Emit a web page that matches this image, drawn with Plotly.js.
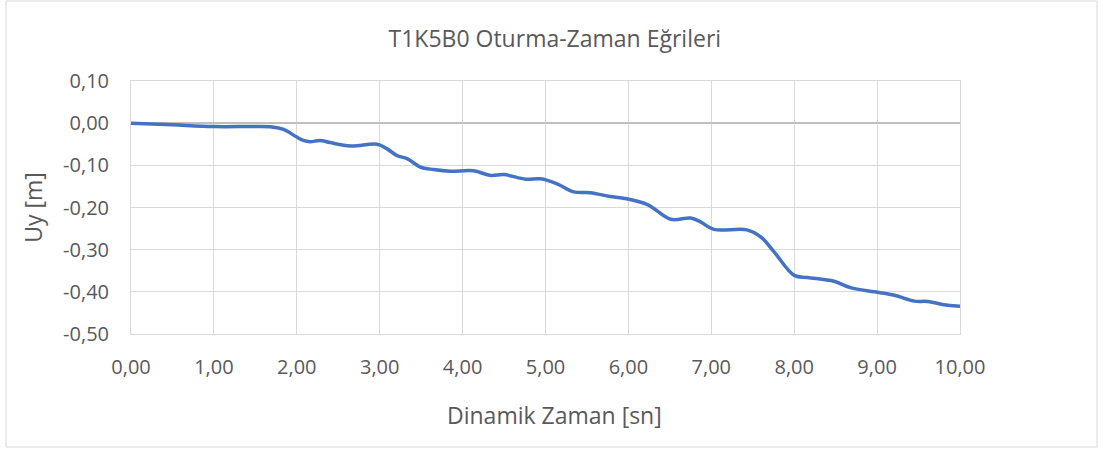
<!DOCTYPE html>
<html>
<head>
<meta charset="utf-8">
<script src="https://cdn.plot.ly/plotly-3.0.1.min.js"></script>
<style>
html,body{margin:0;padding:0;background:#fff;}
#chart{width:1103px;height:450px;}
</style>
</head>
<body>
<div id="chart"></div>
<script>
const titleText = "T1K5B0 Oturma-Zaman Eğrileri";
const xTitle = "Dinamik Zaman [sn]";
const yTitle = "Uy [m]";

const time = [0, 0.5, 1.0, 1.5, 1.7, 1.84, 2.0, 2.08, 2.16, 2.28, 2.4, 2.65, 2.97, 3.09, 3.21, 3.33, 3.49, 3.65, 3.85, 4.13, 4.34, 4.5, 4.76, 4.94, 5.14, 5.34, 5.54, 5.78, 5.94, 6.23, 6.51, 6.75, 6.87, 7.03, 7.43, 7.6, 7.76, 8.0, 8.16, 8.48, 8.68, 8.97, 9.21, 9.45, 9.61, 9.85, 10.0];
const uy   = [0, -0.004, -0.008, -0.008, -0.009, -0.015, -0.033, -0.041, -0.044, -0.041, -0.046, -0.054, -0.050, -0.061, -0.077, -0.084, -0.104, -0.110, -0.114, -0.113, -0.124, -0.122, -0.133, -0.132, -0.144, -0.163, -0.165, -0.174, -0.178, -0.193, -0.228, -0.225, -0.234, -0.252, -0.253, -0.270, -0.306, -0.361, -0.366, -0.375, -0.390, -0.400, -0.408, -0.422, -0.423, -0.432, -0.434];

const yTickVals = [0.1, 0, -0.1, -0.2, -0.3, -0.4, -0.5];
const yTickText = ["0,10", "0,00", "-0,10", "-0,20", "-0,30", "-0,40", "-0,50"];
const xTickVals = [0, 1, 2, 3, 4, 5, 6, 7, 8, 9, 10];
const xTickText = ["0,00", "1,00", "2,00", "3,00", "4,00", "5,00", "6,00", "7,00", "8,00", "9,00", "10,00"];

const FONT = "'Open Sans', Lato, sans-serif";
const TXT = "#595959";

const trace = {
  x: time, y: uy, type: "scatter", mode: "lines",
  line: {color: "#4472C4", width: 3.5, shape: "spline", smoothing: 1},
  hoverinfo: "skip"
};

const layout = {
  width: 1103, height: 450,
  margin: {l: 131, r: 143, t: 81, b: 116},
  paper_bgcolor: "#fff", plot_bgcolor: "#fff",
  separators: ",.",
  showlegend: false,
  font: {family: FONT, color: TXT, size: 18},
  title: {text: titleText, font: {family: FONT, size: 23, color: TXT}, x: 0.503, xanchor: "center", y: 1 - 39/450, yanchor: "middle", yref: "container"},
  xaxis: {
    range: [0, 10], tickmode: "array", tickvals: xTickVals, ticktext: xTickText,
    showgrid: true, gridcolor: "#D9D9D9", gridwidth: 1,
    zeroline: false, showline: true, linecolor: "#D9D9D9", mirror: true,
    ticks: "outside", ticklen: 15, tickcolor: "rgba(0,0,0,0)",
    tickfont: {family: FONT, size: 20, color: TXT}
  },
  yaxis: {
    range: [-0.5, 0.1], tickmode: "array", tickvals: yTickVals, ticktext: yTickText,
    showgrid: true, gridcolor: "#D9D9D9", gridwidth: 1,
    zeroline: true, zerolinecolor: "#BFBFBF", zerolinewidth: 1.5,
    showline: true, linecolor: "#D9D9D9", mirror: true,
    ticks: "outside", ticklen: 17, tickcolor: "rgba(0,0,0,0)",
    tickfont: {family: FONT, size: 20, color: TXT},
    title: {text: yTitle, font: {family: FONT, size: 23, color: TXT}, standoff: 14}
  },
  annotations: [{
    text: xTitle, xref: "paper", yref: "paper",
    x: (554 - 131) / 829, y: (334 - 415) / 253,
    xanchor: "center", yanchor: "middle", showarrow: false,
    font: {family: FONT, size: 23, color: TXT}
  }],
  shapes: [{
    type: "rect", xref: "paper", yref: "paper",
    x0: (6 - 131) / 829, x1: (1097 - 131) / 829,
    y0: (334 - 447) / 253, y1: (334 - 1) / 253,
    line: {color: "#D9D9D9", width: 1}, fillcolor: "rgba(0,0,0,0)", layer: "below"
  }]
};

Plotly.newPlot("chart", [trace], layout, {staticPlot: true, displayModeBar: false});
</script>
</body>
</html>
